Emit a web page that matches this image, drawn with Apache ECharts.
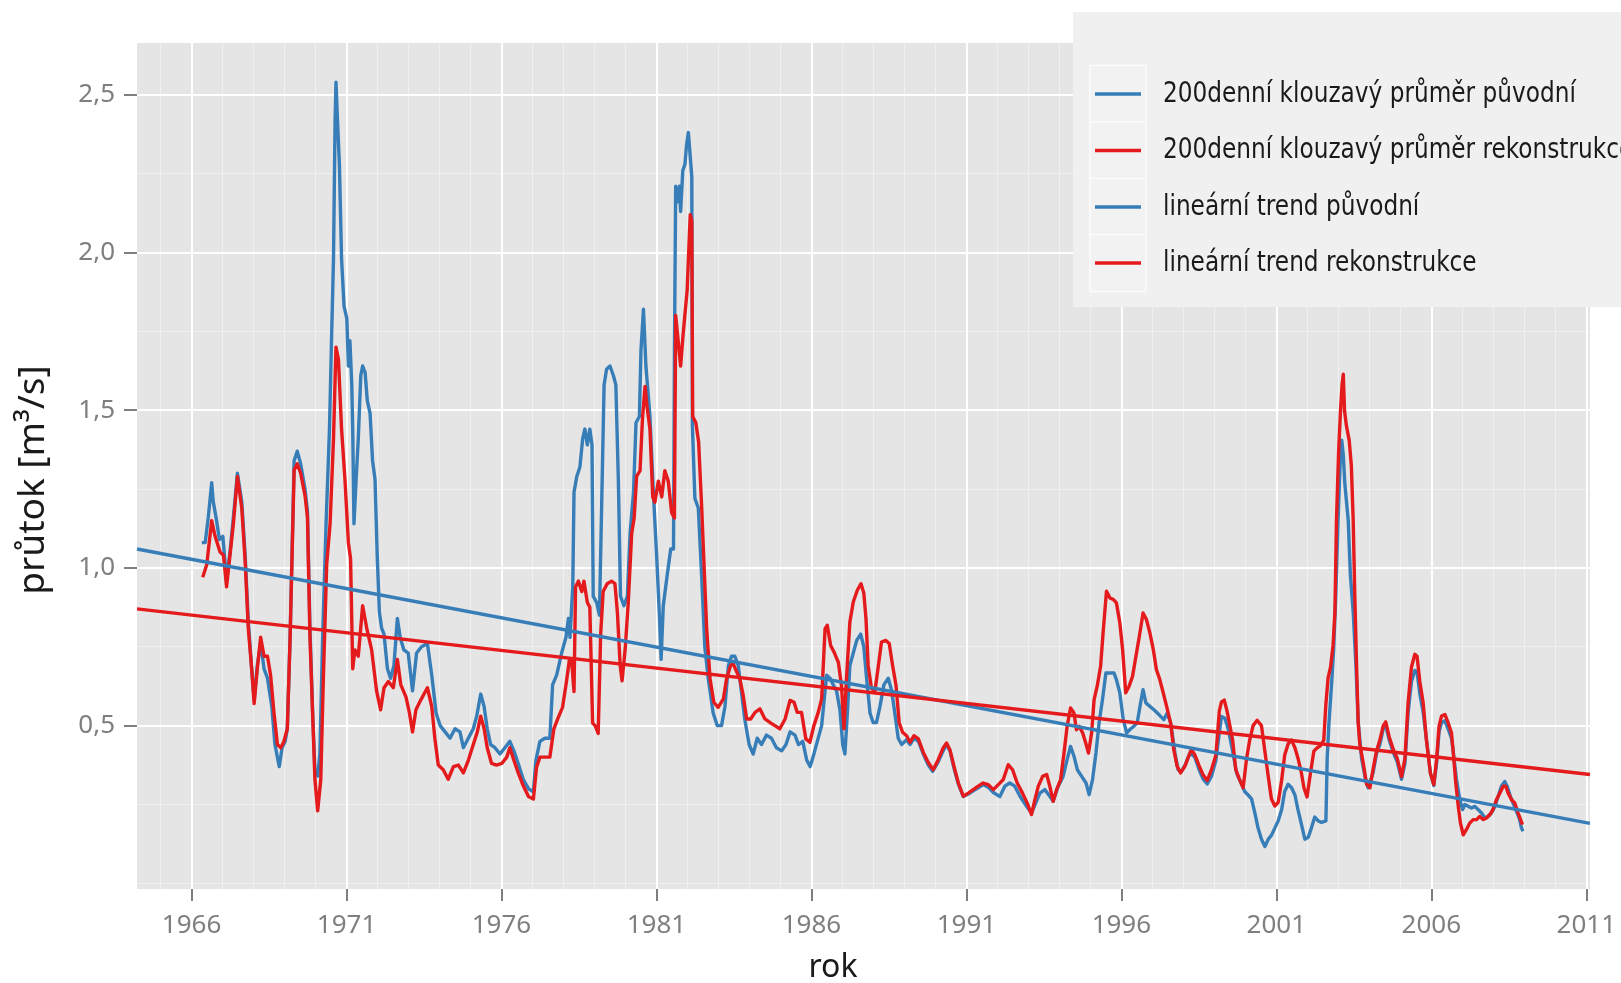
<!DOCTYPE html>
<html><head><meta charset="utf-8">
<script src="https://cdn.jsdelivr.net/npm/echarts@6/dist/echarts.min.js"></script>
<style>html,body{margin:0;padding:0;background:#fff}#c{width:1621px;height:983px}</style>
</head><body><div id="c"></div>
<script>
const seriesNames = ['200denní klouzavý průměr původní','200denní klouzavý průměr rekonstrukce','lineární trend původní','lineární trend rekonstrukce'];
const xTickYears = [1966,1971,1976,1981,1986,1991,1996,2001,2006,2011];
const yTickValues = [0.5,1.0,1.5,2.0,2.5];
const yMinorValues = [0,0.25,0.75,1.25,1.75,2.25];

const origYears = [1966.33,1966.44,1966.54,1966.65,1966.70,1966.79,1966.90,1967.01,1967.13,1967.24,1967.35,1967.48,1967.62,1967.73,1967.83,1967.94,1968.02,1968.12,1968.23,1968.34,1968.45,1968.59,1968.69,1968.83,1968.92,1969.02,1969.09,1969.18,1969.31,1969.41,1969.52,1969.66,1969.74,1969.82,1969.91,1969.98,1970.07,1970.14,1970.23,1970.34,1970.45,1970.52,1970.58,1970.63,1970.66,1970.70,1970.77,1970.84,1970.92,1971.01,1971.06,1971.11,1971.17,1971.20,1971.24,1971.31,1971.38,1971.46,1971.52,1971.60,1971.67,1971.76,1971.84,1971.92,1971.99,1972.06,1972.13,1972.21,1972.32,1972.42,1972.53,1972.64,1972.73,1972.85,1972.99,1973.13,1973.26,1973.42,1973.61,1973.75,1973.89,1974.02,1974.18,1974.34,1974.50,1974.66,1974.77,1974.93,1975.09,1975.20,1975.33,1975.44,1975.54,1975.65,1975.79,1975.95,1976.11,1976.27,1976.40,1976.54,1976.70,1976.87,1977.03,1977.11,1977.24,1977.40,1977.56,1977.65,1977.78,1977.94,1978.08,1978.16,1978.21,1978.30,1978.34,1978.43,1978.53,1978.62,1978.69,1978.77,1978.85,1978.92,1978.96,1979.07,1979.16,1979.23,1979.31,1979.39,1979.50,1979.61,1979.69,1979.77,1979.84,1979.95,1980.06,1980.15,1980.26,1980.34,1980.45,1980.50,1980.58,1980.66,1980.79,1980.90,1981.01,1981.09,1981.15,1981.22,1981.35,1981.46,1981.55,1981.58,1981.62,1981.67,1981.74,1981.78,1981.85,1981.92,1981.97,1982.03,1982.09,1982.14,1982.16,1982.24,1982.35,1982.46,1982.56,1982.67,1982.83,1982.96,1983.10,1983.21,1983.32,1983.42,1983.53,1983.64,1983.75,1983.85,1983.99,1984.12,1984.25,1984.39,1984.55,1984.71,1984.87,1985.04,1985.18,1985.31,1985.47,1985.58,1985.72,1985.85,1985.96,1986.08,1986.19,1986.33,1986.44,1986.49,1986.60,1986.70,1986.81,1986.92,1987.01,1987.08,1987.16,1987.24,1987.35,1987.46,1987.59,1987.69,1987.78,1987.89,1987.99,1988.10,1988.21,1988.34,1988.48,1988.59,1988.69,1988.80,1988.91,1989.07,1989.18,1989.31,1989.45,1989.61,1989.77,1989.91,1990.09,1990.25,1990.36,1990.47,1990.60,1990.74,1990.90,1991.06,1991.22,1991.38,1991.54,1991.70,1991.87,1992.08,1992.24,1992.40,1992.56,1992.73,1992.94,1993.10,1993.24,1993.37,1993.53,1993.69,1993.80,1993.96,1994.12,1994.25,1994.36,1994.47,1994.58,1994.72,1994.86,1994.96,1995.07,1995.18,1995.28,1995.39,1995.50,1995.63,1995.76,1995.84,1995.95,1996.06,1996.17,1996.27,1996.40,1996.51,1996.62,1996.70,1996.79,1996.92,1997.05,1997.16,1997.26,1997.37,1997.48,1997.59,1997.73,1997.83,1997.94,1998.08,1998.21,1998.37,1998.51,1998.64,1998.77,1998.91,1999.05,1999.16,1999.23,1999.34,1999.45,1999.59,1999.72,1999.88,1999.98,2000.09,2000.20,2000.31,2000.41,2000.52,2000.63,2000.74,2000.84,2000.95,2001.06,2001.17,2001.27,2001.38,2001.49,2001.60,2001.70,2001.81,2001.92,2002.03,2002.13,2002.24,2002.35,2002.46,2002.60,2002.64,2002.70,2002.78,2002.85,2002.92,2002.99,2003.07,2003.11,2003.16,2003.21,2003.32,2003.39,2003.48,2003.57,2003.64,2003.75,2003.86,2003.96,2004.12,2004.23,2004.34,2004.45,2004.53,2004.64,2004.77,2004.90,2005.04,2005.15,2005.25,2005.36,2005.47,2005.54,2005.63,2005.74,2005.85,2005.97,2006.08,2006.17,2006.25,2006.33,2006.44,2006.54,2006.65,2006.70,2006.81,2006.92,2007.01,2007.08,2007.19,2007.30,2007.40,2007.51,2007.62,2007.73,2007.83,2007.94,2008.05,2008.16,2008.26,2008.37,2008.45,2008.55,2008.66,2008.77,2008.85,2008.91,2008.96];
const origFlow = [1.08,1.08,1.16,1.27,1.21,1.16,1.09,1.10,0.96,1.05,1.16,1.30,1.21,1.04,0.83,0.68,0.58,0.69,0.76,0.68,0.65,0.56,0.44,0.37,0.43,0.45,0.49,0.78,1.34,1.37,1.33,1.25,1.18,0.81,0.53,0.36,0.34,0.41,0.78,1.14,1.44,1.74,1.98,2.41,2.54,2.44,2.28,1.98,1.83,1.79,1.64,1.72,1.58,1.44,1.14,1.28,1.41,1.61,1.64,1.62,1.53,1.49,1.34,1.28,1.04,0.86,0.81,0.79,0.68,0.65,0.69,0.84,0.78,0.74,0.73,0.61,0.73,0.75,0.76,0.66,0.54,0.50,0.48,0.46,0.49,0.48,0.43,0.46,0.49,0.53,0.60,0.56,0.49,0.44,0.43,0.41,0.43,0.45,0.42,0.38,0.33,0.30,0.29,0.39,0.45,0.46,0.46,0.63,0.66,0.73,0.78,0.84,0.78,0.94,1.24,1.29,1.32,1.41,1.44,1.39,1.44,1.39,0.91,0.89,0.85,1.19,1.58,1.63,1.64,1.61,1.58,1.28,0.91,0.88,0.91,1.11,1.24,1.46,1.48,1.69,1.82,1.64,1.48,1.24,1.03,0.86,0.71,0.88,0.98,1.06,1.06,1.68,2.21,2.16,2.21,2.13,2.26,2.28,2.34,2.38,2.38,2.24,1.45,1.22,1.19,0.97,0.75,0.65,0.54,0.50,0.50,0.56,0.69,0.72,0.72,0.69,0.60,0.52,0.44,0.41,0.46,0.44,0.47,0.46,0.43,0.42,0.44,0.48,0.47,0.44,0.45,0.39,0.37,0.41,0.45,0.50,0.61,0.66,0.65,0.63,0.61,0.55,0.44,0.41,0.54,0.69,0.73,0.77,0.79,0.75,0.65,0.54,0.51,0.51,0.56,0.63,0.65,0.61,0.54,0.46,0.44,0.455,0.44,0.46,0.45,0.41,0.375,0.355,0.385,0.42,0.44,0.42,0.365,0.315,0.275,0.283,0.293,0.303,0.313,0.305,0.288,0.275,0.308,0.318,0.308,0.276,0.244,0.223,0.255,0.286,0.297,0.276,0.26,0.307,0.339,0.392,0.434,0.403,0.36,0.339,0.318,0.281,0.329,0.413,0.508,0.582,0.667,0.667,0.667,0.646,0.604,0.519,0.477,0.487,0.498,0.508,0.572,0.614,0.572,0.561,0.55,0.54,0.53,0.519,0.54,0.508,0.413,0.36,0.355,0.38,0.413,0.40,0.36,0.33,0.315,0.34,0.39,0.477,0.529,0.523,0.488,0.419,0.349,0.314,0.291,0.28,0.268,0.222,0.175,0.14,0.117,0.14,0.152,0.175,0.198,0.233,0.291,0.314,0.303,0.28,0.233,0.187,0.14,0.146,0.175,0.21,0.198,0.193,0.198,0.396,0.512,0.628,0.744,0.918,1.15,1.358,1.405,1.358,1.266,1.15,0.976,0.86,0.686,0.512,0.396,0.338,0.303,0.35,0.41,0.44,0.49,0.50,0.455,0.415,0.385,0.33,0.38,0.54,0.64,0.675,0.67,0.60,0.54,0.45,0.35,0.31,0.38,0.48,0.51,0.515,0.49,0.46,0.424,0.33,0.265,0.234,0.25,0.244,0.239,0.244,0.234,0.223,0.207,0.212,0.223,0.244,0.276,0.308,0.323,0.308,0.276,0.249,0.223,0.202,0.175,0.165];

const reconYears = [1966.36,1966.49,1966.65,1966.76,1966.92,1967.03,1967.13,1967.24,1967.35,1967.48,1967.62,1967.73,1967.83,1967.94,1968.02,1968.12,1968.23,1968.34,1968.45,1968.55,1968.66,1968.77,1968.88,1968.98,1969.09,1969.18,1969.31,1969.41,1969.52,1969.66,1969.74,1969.82,1969.91,1969.98,1970.07,1970.17,1970.25,1970.36,1970.47,1970.58,1970.66,1970.74,1970.84,1970.95,1971.06,1971.13,1971.20,1971.27,1971.38,1971.52,1971.65,1971.81,1971.97,1972.10,1972.21,1972.35,1972.51,1972.64,1972.75,1972.92,1973.03,1973.13,1973.24,1973.39,1973.61,1973.75,1973.85,1973.96,1974.12,1974.28,1974.45,1974.61,1974.77,1974.93,1975.09,1975.22,1975.33,1975.44,1975.54,1975.68,1975.84,1976.01,1976.17,1976.27,1976.40,1976.54,1976.70,1976.87,1977.03,1977.13,1977.24,1977.40,1977.56,1977.69,1977.83,1977.97,1978.10,1978.19,1978.26,1978.34,1978.39,1978.48,1978.59,1978.66,1978.77,1978.85,1978.94,1979.02,1979.12,1979.20,1979.28,1979.41,1979.55,1979.66,1979.74,1979.83,1979.89,1979.99,1980.09,1980.20,1980.28,1980.36,1980.47,1980.55,1980.63,1980.70,1980.79,1980.88,1980.95,1981.06,1981.17,1981.27,1981.38,1981.49,1981.58,1981.62,1981.70,1981.78,1981.86,1981.99,1982.06,1982.09,1982.14,1982.17,1982.27,1982.36,1982.46,1982.51,1982.62,1982.73,1982.85,1982.99,1983.16,1983.26,1983.39,1983.48,1983.59,1983.69,1983.80,1983.91,1984.04,1984.18,1984.34,1984.50,1984.66,1984.82,1984.98,1985.15,1985.31,1985.44,1985.54,1985.68,1985.82,1985.95,1986.08,1986.22,1986.33,1986.44,1986.51,1986.62,1986.73,1986.87,1986.97,1987.05,1987.13,1987.24,1987.35,1987.48,1987.60,1987.69,1987.76,1987.83,1987.94,1988.05,1988.16,1988.26,1988.40,1988.51,1988.62,1988.73,1988.83,1988.94,1989.07,1989.18,1989.31,1989.45,1989.61,1989.77,1989.93,1990.09,1990.25,1990.36,1990.47,1990.60,1990.74,1990.90,1991.06,1991.22,1991.38,1991.54,1991.70,1991.87,1992.03,1992.19,1992.35,1992.49,1992.64,1992.81,1992.96,1993.10,1993.21,1993.32,1993.46,1993.59,1993.69,1993.80,1993.91,1994.04,1994.15,1994.25,1994.36,1994.47,1994.55,1994.64,1994.75,1994.85,1994.94,1995.04,1995.12,1995.22,1995.33,1995.41,1995.52,1995.63,1995.74,1995.84,1995.95,1996.04,1996.14,1996.25,1996.36,1996.47,1996.58,1996.70,1996.81,1996.92,1997.03,1997.13,1997.24,1997.35,1997.46,1997.59,1997.69,1997.80,1997.91,1998.05,1998.12,1998.26,1998.37,1998.51,1998.64,1998.77,1998.91,1999.05,1999.16,1999.23,1999.32,1999.41,1999.50,1999.59,1999.69,1999.80,1999.93,2000.04,2000.14,2000.25,2000.38,2000.52,2000.63,2000.74,2000.84,2000.95,2001.06,2001.17,2001.27,2001.38,2001.49,2001.60,2001.70,2001.81,2001.89,2001.99,2002.10,2002.21,2002.32,2002.42,2002.53,2002.60,2002.67,2002.75,2002.83,2002.89,2002.94,2003.01,2003.07,2003.12,2003.16,2003.20,2003.26,2003.35,2003.42,2003.48,2003.53,2003.59,2003.64,2003.69,2003.80,2003.91,2004.02,2004.12,2004.23,2004.34,2004.45,2004.53,2004.64,2004.77,2004.90,2005.04,2005.15,2005.25,2005.36,2005.47,2005.54,2005.63,2005.74,2005.84,2005.97,2006.08,2006.17,2006.25,2006.33,2006.44,2006.54,2006.65,2006.70,2006.79,2006.87,2006.94,2007.03,2007.13,2007.24,2007.35,2007.46,2007.56,2007.67,2007.78,2007.89,2007.99,2008.10,2008.21,2008.32,2008.40,2008.48,2008.59,2008.69,2008.80,2008.88,2008.94];
const reconFlow = [0.97,1.01,1.15,1.10,1.05,1.04,0.94,1.04,1.14,1.29,1.19,1.02,0.81,0.68,0.57,0.68,0.78,0.72,0.72,0.66,0.54,0.44,0.43,0.45,0.49,0.78,1.31,1.33,1.30,1.23,1.16,0.78,0.53,0.33,0.23,0.33,0.64,1.01,1.14,1.41,1.70,1.66,1.44,1.28,1.08,1.03,0.68,0.74,0.72,0.88,0.81,0.74,0.61,0.55,0.62,0.64,0.62,0.71,0.63,0.59,0.54,0.48,0.55,0.58,0.62,0.56,0.46,0.375,0.36,0.33,0.37,0.375,0.35,0.39,0.44,0.48,0.53,0.49,0.43,0.38,0.375,0.38,0.40,0.43,0.39,0.35,0.31,0.275,0.267,0.367,0.40,0.40,0.40,0.49,0.525,0.558,0.642,0.708,0.708,0.608,0.94,0.958,0.925,0.958,0.89,0.875,0.508,0.50,0.475,0.79,0.925,0.95,0.958,0.95,0.858,0.69,0.642,0.742,0.89,1.108,1.158,1.29,1.308,1.475,1.575,1.508,1.44,1.225,1.208,1.275,1.225,1.308,1.275,1.175,1.158,1.80,1.72,1.64,1.74,1.88,2.05,2.12,2.10,1.48,1.46,1.40,1.19,1.07,0.807,0.648,0.574,0.558,0.585,0.648,0.69,0.696,0.67,0.648,0.595,0.521,0.521,0.542,0.553,0.521,0.51,0.50,0.49,0.521,0.58,0.574,0.542,0.542,0.458,0.447,0.50,0.542,0.585,0.807,0.818,0.754,0.733,0.70,0.627,0.49,0.648,0.828,0.892,0.929,0.95,0.92,0.839,0.69,0.617,0.61,0.69,0.765,0.77,0.76,0.69,0.627,0.51,0.479,0.468,0.447,0.468,0.458,0.415,0.383,0.36,0.392,0.429,0.445,0.423,0.371,0.318,0.276,0.286,0.297,0.308,0.318,0.313,0.297,0.313,0.329,0.376,0.36,0.318,0.286,0.255,0.218,0.265,0.308,0.339,0.345,0.308,0.26,0.297,0.329,0.413,0.498,0.556,0.54,0.487,0.498,0.477,0.445,0.413,0.477,0.582,0.625,0.688,0.794,0.926,0.905,0.90,0.889,0.826,0.741,0.604,0.625,0.656,0.72,0.783,0.857,0.836,0.794,0.741,0.678,0.646,0.604,0.561,0.508,0.424,0.371,0.35,0.371,0.39,0.425,0.407,0.372,0.343,0.326,0.361,0.407,0.546,0.575,0.581,0.546,0.50,0.454,0.361,0.332,0.303,0.396,0.454,0.50,0.517,0.50,0.419,0.338,0.268,0.245,0.257,0.326,0.407,0.442,0.454,0.43,0.396,0.349,0.303,0.274,0.349,0.419,0.43,0.436,0.454,0.57,0.651,0.686,0.755,0.86,1.15,1.37,1.498,1.58,1.614,1.498,1.451,1.405,1.324,1.15,0.918,0.686,0.512,0.442,0.384,0.314,0.303,0.361,0.419,0.454,0.50,0.512,0.465,0.425,0.396,0.338,0.396,0.57,0.686,0.726,0.72,0.639,0.57,0.456,0.35,0.313,0.392,0.498,0.53,0.535,0.51,0.477,0.424,0.318,0.244,0.191,0.154,0.17,0.191,0.202,0.202,0.212,0.202,0.207,0.218,0.234,0.265,0.286,0.308,0.308,0.286,0.265,0.255,0.223,0.202,0.186];

const trendYears = [1964.24, 2011.12];
const trendOrig = [1.06, 0.19];
const trendRecon = [0.87, 0.345];

const xMin = 1964.24, xMax = 2011.12, yMin = -0.018, yMax = 2.664;
const colBlue = '#377eb8', colRed = '#e41a1c';
const seriesColors = [colBlue, colRed, colBlue, colRed];

const xMinor = [];
for (let y = 1965; y <= 2011; y++) if (xTickYears.indexOf(y) < 0) xMinor.push(y);

function pairs(xs, ys) { return xs.map((x, i) => [x, ys[i]]); }

const chart = echarts.init(document.getElementById('c'), null, {renderer: 'canvas'});
const labelFont = "'Noto Sans', 'Open Sans', sans-serif";
const legendFont = "'Liberation Sans Narrow', 'DejaVu Sans Condensed', 'Noto Sans', sans-serif";

function lineSeries(name, xs, ys, color) {
  return {
    name: name, type: 'line', xAxisIndex: 0, yAxisIndex: 0,
    data: pairs(xs, ys), symbol: 'none', showSymbol: false,
    color: color, itemStyle: {color: color},
    lineStyle: {color: color, width: 3.4, join: 'round'}, z: 2, silent: true
  };
}

// legend drawn as graphic (key boxes, key lines, condensed labels)
const legendRows = [94, 150.5, 207, 263];
const legendGraphics = [
  {type: 'rect', z: 3, z2: 0, silent: true, shape: {x: 1073, y: 12, width: 600, height: 295}, style: {fill: '#f0f0f0'}}
];
seriesNames.forEach((name, i) => {
  const cy = legendRows[i];
  legendGraphics.push({type: 'rect', z: 3, z2: 1, silent: true, shape: {x: 1090, y: cy - 28.5, width: 56, height: 57}, style: {fill: '#f2f2f2', stroke: '#fbfbfb', lineWidth: 1.5}});
  legendGraphics.push({type: 'line', z: 3, z2: 2, silent: true, shape: {x1: 1095, y1: cy, x2: 1141, y2: cy}, style: {stroke: seriesColors[i], lineWidth: 3.4}});
  legendGraphics.push({type: 'text', z: 3, z2: 3, silent: true, x: 1163, y: cy, scaleX: 0.89, scaleY: 1,
    style: {text: name, x: 0, y: 0, align: 'left', verticalAlign: 'middle', fontSize: 29, fontFamily: legendFont, fill: '#1a1a1a'}});
});

chart.setOption({
  animation: false,
  backgroundColor: '#ffffff',
  grid: {left: 137, right: 31, top: 43, bottom: 94, show: true, backgroundColor: '#e5e5e5', borderWidth: 0, containLabel: false},
  xAxis: [
    {type: 'value', min: xMin, max: xMax, position: 'bottom', z: 1,
     axisLine: {show: false, onZero: false},
     axisTick: {show: true, length: 12, lineStyle: {color: '#7f7f7f', width: 2}, customValues: xTickYears},
     axisLabel: {show: true, customValues: xTickYears, margin: 24, color: '#7f7f7f', fontSize: 26, lineHeight: 26, fontFamily: labelFont, formatter: v => String(Math.round(v))},
     splitLine: {show: true, lineStyle: {color: '#ffffff', width: 2}}},
    {type: 'value', min: xMin, max: xMax, position: 'bottom', z: 0,
     axisLine: {show: false, onZero: false},
     axisTick: {show: false, customValues: xMinor},
     axisLabel: {show: false},
     splitLine: {show: true, lineStyle: {color: '#f0f0f0', width: 1}}}
  ],
  yAxis: [
    {type: 'value', min: yMin, max: yMax, position: 'left', z: 1,
     axisLine: {show: false, onZero: false},
     axisTick: {show: true, length: 13, lineStyle: {color: '#7f7f7f', width: 2}, customValues: yTickValues},
     axisLabel: {show: true, customValues: yTickValues, margin: 22, color: '#7f7f7f', fontSize: 26, fontFamily: labelFont, formatter: v => v.toFixed(1).replace('.', ',')},
     splitLine: {show: true, lineStyle: {color: '#ffffff', width: 2}}},
    {type: 'value', min: yMin, max: yMax, position: 'left', z: 0,
     axisLine: {show: false, onZero: false},
     axisTick: {show: false, customValues: yMinorValues},
     axisLabel: {show: false},
     splitLine: {show: true, lineStyle: {color: '#f0f0f0', width: 1}}}
  ],
  graphic: legendGraphics.concat([
    {type: 'text', z: 5, silent: true, style: {text: 'rok', x: 833, y: 968, align: 'center', verticalAlign: 'middle', fontSize: 32, fontFamily: labelFont, fill: '#1a1a1a'}},
    {type: 'text', z: 5, silent: true, x: 33, y: 480, rotation: Math.PI / 2, style: {text: 'průtok [m³/s]', x: 0, y: 0, align: 'center', verticalAlign: 'middle', fontSize: 37, fontFamily: labelFont, fill: '#1a1a1a'}}
  ]),
  series: [
    lineSeries(seriesNames[0], origYears, origFlow, colBlue),
    lineSeries(seriesNames[1], reconYears, reconFlow, colRed),
    lineSeries(seriesNames[2], trendYears, trendOrig, colBlue),
    lineSeries(seriesNames[3], trendYears, trendRecon, colRed)
  ]
});
</script>
</body></html>
